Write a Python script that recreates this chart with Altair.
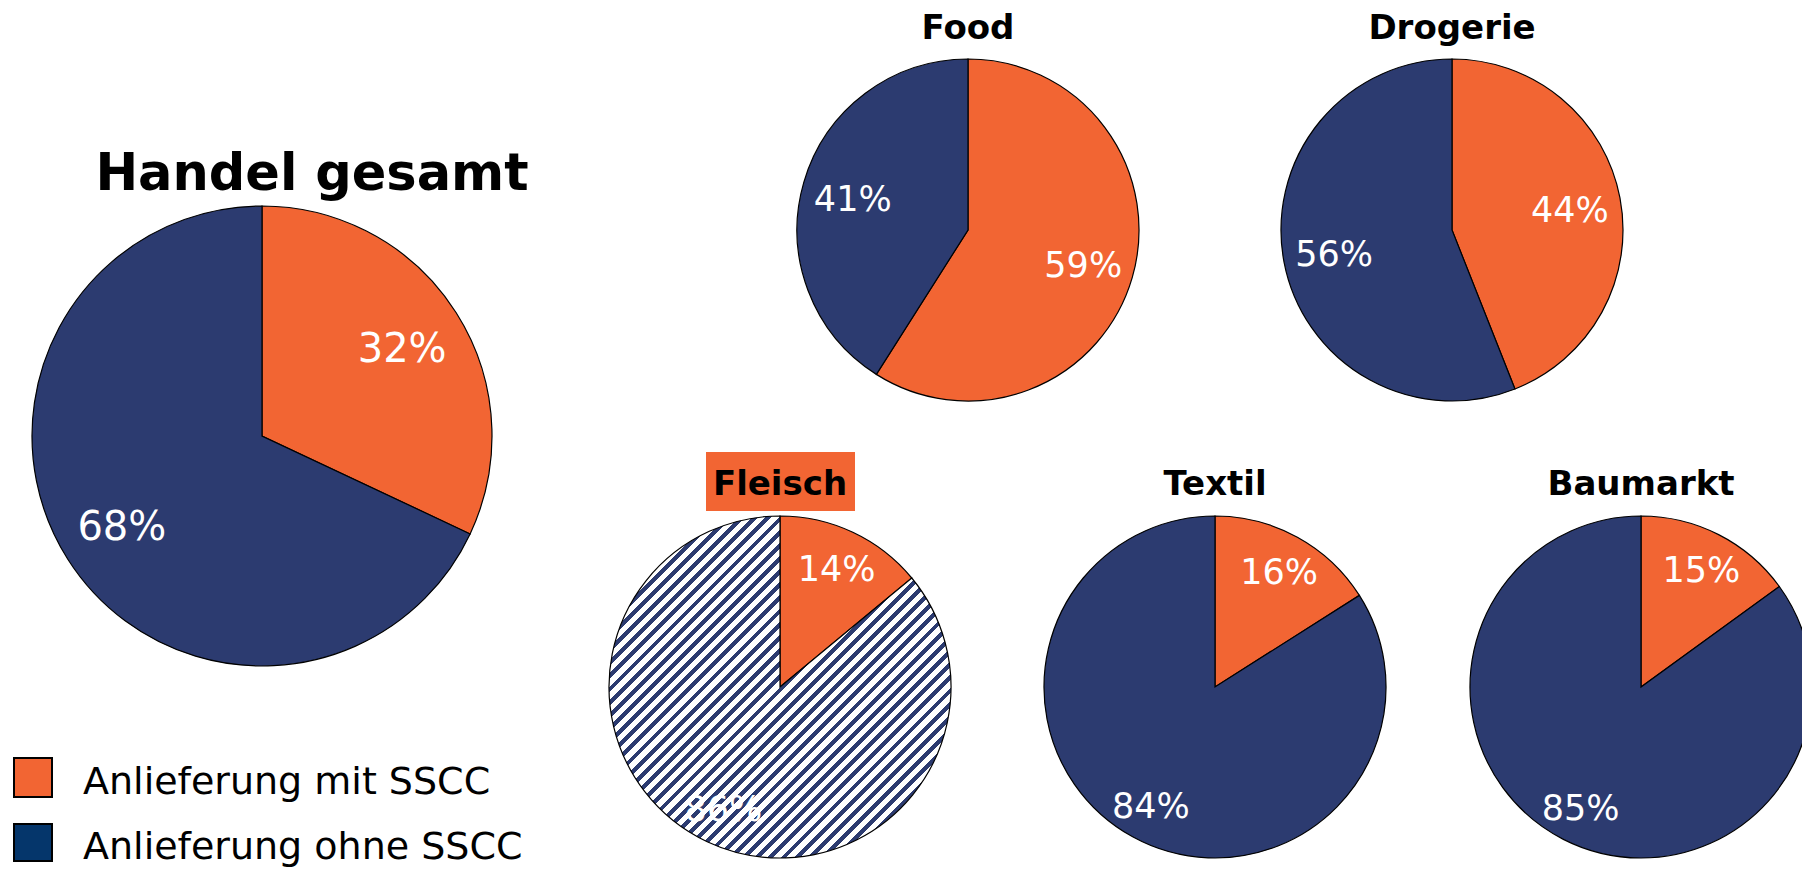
import altair as alt
import pandas as pd

# ---- data ----
pies = ["Handel gesamt", "Food", "Drogerie", "Fleisch", "Textil", "Baumarkt"]
mit_sscc = [32, 59, 44, 14, 16, 15]
ohne_sscc = [68, 41, 56, 86, 84, 85]
categories = ["Anlieferung mit SSCC", "Anlieferung ohne SSCC"]

ORANGE = "#F26533"
NAVY = "#2C3B70"
LEGEND_NAVY = "#05366B"
FONT = "DejaVu Sans"

rows = []
for p, m, o in zip(pies, mit_sscc, ohne_sscc):
    rows.append({"pie": p, "cat": categories[0], "k": 0, "value": m, "label": f"{m}%"})
    rows.append({"pie": p, "cat": categories[1], "k": 1, "value": o, "label": f"{o}%"})
df = pd.DataFrame(rows)

titles_df = pd.DataFrame({"pie": pies})
legend_df = pd.DataFrame({"cat": categories})

# ---- layout (center x, center y, radius, label radius, label font size) ----
layout = {
    "Handel gesamt": (254, 428, 230, 166, 40),
    "Food": (960, 222, 171, 120, 35),
    "Drogerie": (1444, 222, 171, 120, 35),
    "Fleisch": (772, 679, 171, 133, 35),
    "Textil": (1207, 679, 171, 133, 35),
    "Baumarkt": (1633, 679, 171, 133, 35),
}
title_pos = {
    "Handel gesamt": (304, 167, 51),
    "Food": (960, 21, 34),
    "Drogerie": (1444, 21, 34),
    "Fleisch": (772, 477, 34),
    "Textil": (1207, 477, 34),
    "Baumarkt": (1633, 477, 34),
}

# hatch pattern emulated by a striped linear gradient
N = 52
stops = []
for i in range(N):
    a = i / N
    b = (i + 0.45) / N
    c = min((i + 1) / N, 1.0)
    stops += [
        {"offset": a, "color": NAVY},
        {"offset": b, "color": NAVY},
        {"offset": b, "color": "#FFFFFF"},
        {"offset": c, "color": "#FFFFFF"},
    ]
hatch = {"gradient": "linear", "x1": 0, "y1": 0, "x2": 1, "y2": 1, "stops": stops}

fill_scale = alt.Scale(domain=categories, range=[ORANGE, NAVY])

layers = []

# Fleisch title background box
layers.append(
    alt.Chart(titles_df)
    .transform_filter(alt.datum.pie == "Fleisch")
    .mark_rect(color=ORANGE)
    .encode(x=alt.value(698), x2=alt.value(847), y=alt.value(444), y2=alt.value(503))
)

for p in pies:
    cx, cy, r, lr, fs = layout[p]
    base = (
        alt.Chart(df)
        .transform_filter(alt.datum.pie == p)
        .encode(
            theta=alt.Theta("value:Q", stack=True),
            order=alt.Order("k:Q"),
            x=alt.value(cx),
            y=alt.value(cy),
        )
    )
    if p == "Fleisch":
        fill = alt.condition(alt.datum.k == 0, alt.value(ORANGE), alt.value(hatch))
    else:
        fill = alt.Fill("cat:N", scale=fill_scale, legend=None)
    arc = base.mark_arc(outerRadius=r, stroke="black", strokeWidth=1.2).encode(fill=fill)
    txt = base.mark_text(
        radius=lr, fontSize=fs, font=FONT, color="white", baseline="middle",
        align="center", dy=3
    ).encode(text="label:N")
    tx, ty, tfs = title_pos[p]
    title = (
        alt.Chart(titles_df)
        .transform_filter(alt.datum.pie == p)
        .mark_text(fontSize=tfs, font=FONT, fontWeight="bold", color="black",
                   baseline="middle", align="center")
        .encode(text="pie:N", x=alt.value(tx), y=alt.value(ty))
    )
    layers += [arc, txt, title]

# legend (square top, square bottom, text baseline)
leg_pos = [(750, 789, 786), (816, 853, 851)]
leg_cols = [ORANGE, LEGEND_NAVY]
for cat, (y0, y1, yb), col in zip(categories, leg_pos, leg_cols):
    layers.append(
        alt.Chart(legend_df)
        .transform_filter(alt.datum.cat == cat)
        .mark_rect(color=col, stroke="black", strokeWidth=2)
        .encode(x=alt.value(6), x2=alt.value(44), y=alt.value(y0), y2=alt.value(y1))
    )
    layers.append(
        alt.Chart(legend_df)
        .transform_filter(alt.datum.cat == cat)
        .mark_text(fontSize=38, font=FONT, color="black", align="left", baseline="alphabetic")
        .encode(text="cat:N", x=alt.value(75), y=alt.value(yb))
    )

chart = (
    alt.layer(*layers)
    .properties(width=1794, height=861, padding=0,
                autosize=alt.AutoSizeParams(type="none"))
    .configure_view(stroke=None)
)

chart.save("out.html", embed_options={"renderer": "svg", "actions": False})
